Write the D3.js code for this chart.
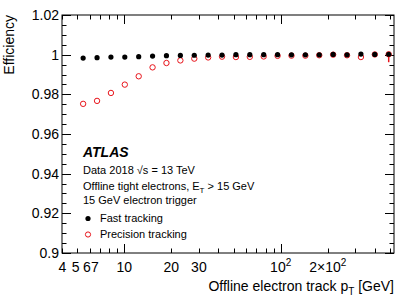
<!DOCTYPE html>
<html>
<head>
<meta charset="utf-8">
<script src="https://cdn.jsdelivr.net/npm/d3@7"></script>
<style>
  body { margin: 0; background: #fff; }
  svg { display: block; font-family: "Liberation Sans", Arial, sans-serif; }
</style>
</head>
<body>
<div id="chart"></div>
<script>
// bin centres of offline electron track pT [GeV]
const ptBins = [5.46, 6.70, 8.22, 10.08, 12.37, 15.17, 18.61, 22.84, 28.03, 34.38, 42.17, 51.73,
  63.47, 77.87, 95.5, 117.2, 143.8, 176.4, 216.4, 265.5, 325.7, 399.6, 490.2];

// efficiency of the fast tracking
const fastEff = [0.9983, 0.9985, 0.9988, 0.9988, 0.9990, 0.9993, 0.9995, 0.9996, 0.9997, 0.9998, 0.9998, 1.0000,
  1.0000, 1.0000, 1.0000, 0.9999, 0.9999, 0.9999, 1.0001, 0.9999, 1.0003, 1.0001, 1.0002];

// efficiency of the precision tracking
const precEff = [0.9752, 0.9767, 0.9807, 0.9849, 0.9891, 0.9936, 0.9958, 0.9971, 0.9980, 0.9986, 0.9990, 0.9988,
  0.9989, 0.9991, 0.9994, 0.9995, 0.9995, 0.9997, 1.0000, 0.9997, 0.9988, 1.0001, 1.0002];
// lower error edge of precision tracking (only visible one is the last bin)
const precErrLow = [0, 0, 0, 0, 0, 0, 0, 0, 0, 0, 0, 0, 0, 0, 0, 0, 0, 0, 0, 0, 0, 0, 0.0040];

const yTicks = [0.9, 0.92, 0.94, 0.96, 0.98, 1, 1.02];
const yTickLabels = ["0.9", "0.92", "0.94", "0.96", "0.98", "1", "1.02"];
const xLabelTicks = [4, 5, 6, 7, 10, 20, 30, 100, 200];
const xTickLabels = ["4", "5", "6", "7", "10", "20", "30", "10^2", "2×10^2"];

const legendLines = ["Data 2018 √s = 13 TeV", "Offline tight electrons, E_T > 15 GeV", "15 GeV electron trigger"];

const W = 415, H = 298;
const m = { left: 62, right: 21, top: 15, bottom: 45 };

const svg = d3.select("#chart").append("svg")
  .attr("width", W).attr("height", H);

const x = d3.scaleLog().domain([4, 530]).range([m.left, W - m.right]);
const y = d3.scaleLinear().domain([0.9, 1.02]).range([H - m.bottom, m.top]);

const x0 = m.left, x1 = W - m.right, y0 = H - m.bottom, y1 = m.top;

// frame
svg.append("rect")
  .attr("x", x0).attr("y", y1)
  .attr("width", x1 - x0).attr("height", y0 - y1)
  .attr("fill", "none").attr("stroke", "#000").attr("stroke-width", 1);

// y ticks (left + right mirror)
const yMinor = d3.range(0.9, 1.0201, 0.005);
const g = svg.append("g").attr("stroke", "#000").attr("stroke-width", 1);
yMinor.forEach(v => {
  const major = Math.abs(Math.round(v / 0.02) * 0.02 - v) < 1e-6;
  const len = major ? 9 : 4.5;
  const yy = Math.round(y(v)) + 0.5;
  g.append("line").attr("x1", x0).attr("x2", x0 + len).attr("y1", yy).attr("y2", yy);
  g.append("line").attr("x1", x1).attr("x2", x1 - len).attr("y1", yy).attr("y2", yy);
});

// x ticks (bottom + top mirror)
const xAll = [];
[1, 10, 100].forEach(dec => { for (let k = 1; k <= 9; k++) xAll.push(dec * k); });
xAll.filter(v => v >= 4 && v <= 530).forEach(v => {
  const major = (v === 10 || v === 100);
  const len = major ? 9 : 4.5;
  const xx = Math.round(x(v)) + 0.5;
  g.append("line").attr("x1", xx).attr("x2", xx).attr("y1", y0).attr("y2", y0 - len);
  g.append("line").attr("x1", xx).attr("x2", xx).attr("y1", y1).attr("y2", y1 + len);
});

// y tick labels
svg.append("g").selectAll("text").data(yTicks).join("text")
  .attr("x", x0 - 3)
  .attr("y", d => y(d) + 5)
  .attr("text-anchor", "end")
  .attr("font-size", 14)
  .text((d, i) => yTickLabels[i]);

// x tick labels
const xLabelShift = { 4: 0.5, 5: -1.5, 6: -2.7, 7: -5 };
const xl = svg.append("g").attr("font-size", 14).attr("text-anchor", "middle");
xLabelTicks.forEach((v, i) => {
  const lab = xTickLabels[i];
  const t = xl.append("text")
    .attr("x", x(v) + (xLabelShift[v] || 0))
    .attr("y", 272);
  if (lab.includes("^")) {
    const [base, sup] = lab.split("^");
    t.append("tspan").text(base);
    t.append("tspan").attr("font-size", 10).attr("dy", -6).text(sup);
  } else {
    t.text(lab);
  }
});

// axis titles
const xt = svg.append("text")
  .attr("x", x1).attr("y", 291)
  .attr("text-anchor", "end").attr("font-size", 14);
xt.append("tspan").text("Offline electron track p");
xt.append("tspan").attr("font-size", 10).attr("dy", 4).text("T");
xt.append("tspan").attr("dy", -4).text(" [GeV]");

svg.append("text")
  .attr("transform", `translate(14,${y1}) rotate(-90)`)
  .attr("text-anchor", "end").attr("font-size", 14)
  .text("Efficiency");

// precision tracking error bars
svg.append("g").selectAll("line").data(ptBins.map((p, i) => i).filter(i => precErrLow[i] > 0)).join("line")
  .attr("x1", i => x(ptBins[i])).attr("x2", i => x(ptBins[i]))
  .attr("y1", i => y(precEff[i])).attr("y2", i => y(precEff[i] - precErrLow[i]))
  .attr("stroke", "#e8141b").attr("stroke-width", 1.5);

// precision tracking markers
svg.append("g").selectAll("circle").data(ptBins).join("circle")
  .attr("cx", d => x(d))
  .attr("cy", (d, i) => y(precEff[i]))
  .attr("r", 2.7)
  .attr("fill", "none").attr("stroke", "#e8141b").attr("stroke-width", 1);

// fast tracking markers
svg.append("g").selectAll("circle").data(ptBins).join("circle")
  .attr("cx", d => x(d))
  .attr("cy", (d, i) => y(fastEff[i]))
  .attr("r", 2.6)
  .attr("fill", "#000");

// ATLAS label and text
svg.append("text")
  .attr("x", 83).attr("y", 157)
  .attr("font-size", 14).attr("font-weight", "bold").attr("font-style", "italic")
  .text("ATLAS");

const lineY = [174, 190, 204];
legendLines.forEach((s, i) => {
  const t = svg.append("text").attr("x", 83).attr("y", lineY[i]).attr("font-size", 11);
  if (s.includes("E_T")) {
    const [a, b] = s.split("E_T");
    t.append("tspan").text(a + "E");
    t.append("tspan").attr("font-size", 8).attr("dy", 3).text("T");
    t.append("tspan").attr("dy", -3).text(b);
  } else {
    t.text(s);
  }
});

// legend
const legend = [
  { label: "Fast tracking", y: 222, filled: true },
  { label: "Precision tracking", y: 238, filled: false }
];
legend.forEach(l => {
  svg.append("circle")
    .attr("cx", 88).attr("cy", l.y - 3.5).attr("r", 2.6)
    .attr("fill", l.filled ? "#000" : "none")
    .attr("stroke", l.filled ? "none" : "#e8141b").attr("stroke-width", 1);
  svg.append("text").attr("x", 100).attr("y", l.y).attr("font-size", 11).text(l.label);
});
</script>
</body>
</html>
